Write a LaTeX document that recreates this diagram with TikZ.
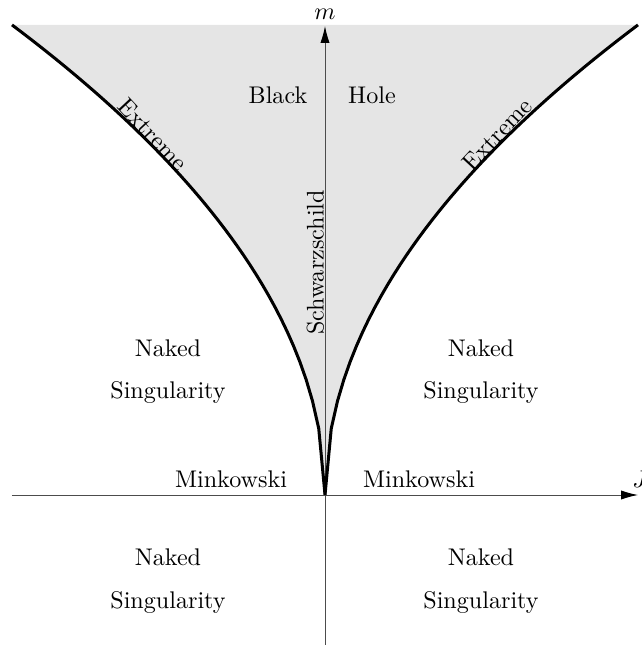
\documentclass[tikz,border=0pt]{standalone}
\usetikzlibrary{arrows.meta}
\begin{document}
\begin{tikzpicture}[x=0.415pt,y=0.415pt,
  axis/.style={draw=black!70,line width=0.4pt,-{Latex[length=7pt,width=3.8pt,color=black]}},
  extremeline/.style={line width=1.25pt},
  lbl/.style={inner sep=0pt,anchor=base}]
\useasboundingbox (-325,-150) rectangle (316,495);
% black hole region
\fill[black!10] plot[domain=313:0,samples=51] (-\x,{26.57*sqrt(\x)})
  -- plot[domain=0:313,samples=51] (\x,{26.57*sqrt(\x)}) -- cycle;
% axes
\coordinate (Jl) at (-313,0);
\coordinate (Jr) at (313,0);
\coordinate (mb) at (0,-150);
\coordinate (mt) at (0,469);
\draw[axis] (Jl) -- (Jr);
\draw[axis] (mb) -- (mt);
\node[anchor=base west,inner sep=0pt] (J) at (307,7) {$J$};
\node[above,inner sep=2.5pt] (m) at (mt) {$m$};
% extreme curves
\draw[extremeline] plot[domain=313:0,samples=51] (-\x,{26.57*sqrt(\x)});
\draw[extremeline] plot[domain=0:313,samples=51] (\x,{26.57*sqrt(\x)});
\node[lbl,rotate=-47] (exl) at (-178,355) {Extreme};
\node[lbl,rotate=47] (exr) at (178,355) {Extreme};
% labels
\node[lbl] (bl) at (-47,391) {Black};
\node[lbl] (ho) at (47,391) {Hole};
\node[lbl,rotate=90] (sch) at (-1.5,232.5) {Schwarzschild};
\node[lbl] (n1) at (-157,138) {Naked};
\node[lbl] (s1) at (-157,96) {Singularity};
\node[lbl] (n2) at (156,138) {Naked};
\node[lbl] (s2) at (156,96) {Singularity};
\node[lbl] (n3) at (-157,-71) {Naked};
\node[lbl] (s3) at (-157,-113) {Singularity};
\node[lbl] (n4) at (156,-71) {Naked};
\node[lbl] (s4) at (156,-113) {Singularity};
\node[lbl] (mk1) at (-94,7) {Minkowski};
\node[lbl] (mk2) at (94,7) {Minkowski};
\end{tikzpicture}
\end{document}
